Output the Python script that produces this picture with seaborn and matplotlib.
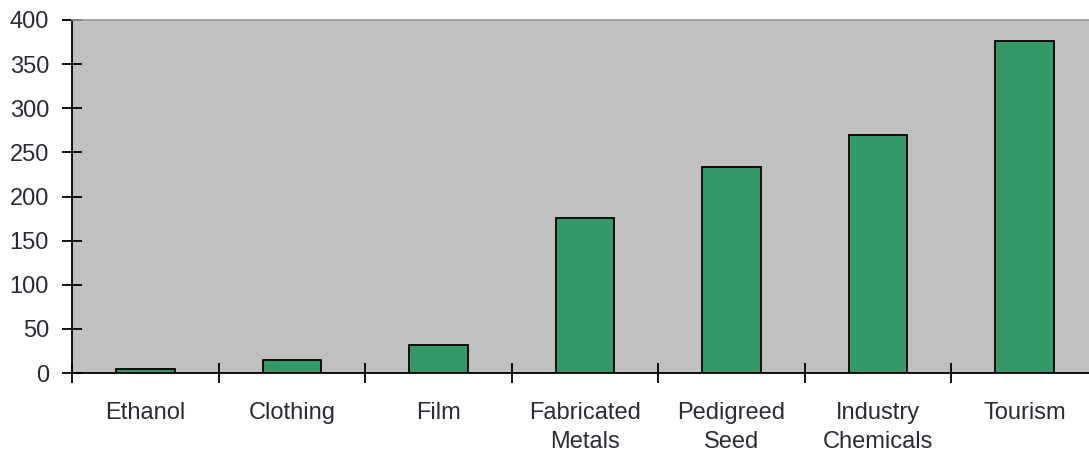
import matplotlib
matplotlib.use("Agg")
import matplotlib.pyplot as plt
import seaborn as sns
import pandas as pd
import numpy as np

categories = ["Ethanol", "Clothing", "Film", "Fabricated\nMetals", "Pedigreed\nSeed",
              "Industry\nChemicals", "Tourism"]
values = [4, 15, 32, 176, 233, 270, 376]
y_ticks = [0, 50, 100, 150, 200, 250, 300, 350, 400]

sns.set_style("white")
plt.rcParams["font.family"] = ["Liberation Sans", "DejaVu Sans"]

df = pd.DataFrame({"category": categories, "value": values})

fig = plt.figure(figsize=(10.89, 4.59), dpi=100)
ax = fig.add_axes([72 / 1089, 1 - 373 / 459, 1026 / 1089, 353 / 459])

sns.barplot(data=df, x="category", y="value", ax=ax, color="#339966",
            saturation=1, width=0.4, edgecolor="black", linewidth=1.3, zorder=3)

ax.set_facecolor("#c0c0c0")
ax.set_xlim(-0.5, len(categories) - 0.5)
ax.set_ylim(0, 400)
ax.set_yticks(y_ticks)
ax.set_xlabel("")
ax.set_ylabel("")

text_color = "#2e2a35"
ax.tick_params(axis="y", left=True, direction="inout", length=15, width=1.3,
               color="black", labelsize=17, labelcolor=text_color, pad=9)
ax.tick_params(axis="x", which="major", bottom=True, length=0, labelsize=17,
               labelcolor=text_color, pad=21)
ax.set_xticks(np.arange(len(categories) + 1) - 0.5, minor=True)
ax.tick_params(axis="x", which="minor", bottom=True, direction="inout", length=15,
               width=1.3, color="black")
for lab in ax.get_xticklabels():
    lab.set_linespacing(1.4)

for side in ["left", "bottom"]:
    ax.spines[side].set_color("black")
    ax.spines[side].set_linewidth(1.3)
ax.spines["top"].set_color("#999999")
ax.spines["top"].set_linewidth(1.2)
ax.spines["right"].set_visible(False)

fig.savefig("out.png", dpi=100)
